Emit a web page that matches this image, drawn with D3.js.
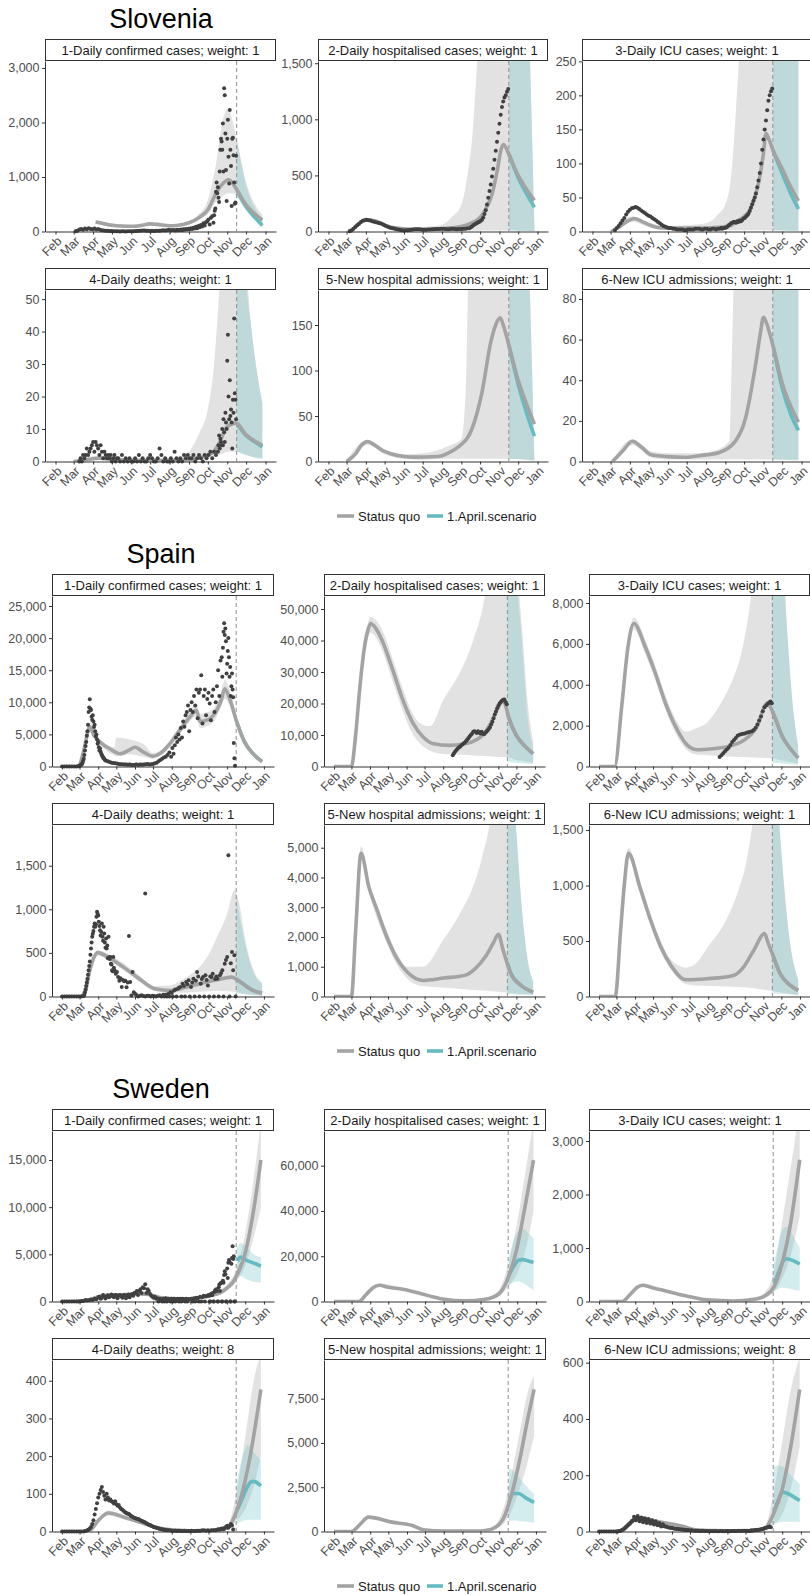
<!DOCTYPE html>
<html><head><meta charset="utf-8">
<script src="https://cdn.jsdelivr.net/npm/d3@7"></script>
<style>body{margin:0;background:#fff}svg text{font-family:"Liberation Sans",Arial,sans-serif}</style>
</head><body><svg id="c" width="810" height="1596"></svg>
<script>
// ---------------- DATA ----------------
const countries = ["Slovenia", "Spain", "Sweden"];
const panelNames = ["1-Daily confirmed cases", "2-Daily hospitalised cases", "3-Daily ICU cases", "4-Daily deaths", "5-New hospital admissions", "6-New ICU admissions"];
const SI_weights = [1, 1, 1, 1, 1, 1];
const ES_weights = [1, 1, 1, 1, 1, 1];
const SE_weights = [1, 1, 1, 8, 1, 8];
const monthLabels = ["Feb", "Mar", "Apr", "May", "Jun", "Jul", "Aug", "Sep", "Oct", "Nov", "Dec", "Jan"];
const forecastStart = "11/16";
const legendLabels = ["Status quo", "1.April.scenario"];

const SI_yMax = [3128, 1520, 250.5, 52.8, 188.5, 84.4];
const SI_yTicks = [[0, 1000, 2000, 3000], [0, 500, 1000, 1500], [0, 50, 100, 150, 200, 250], [0, 10, 20, 30, 40, 50], [0, 50, 100, 150], [0, 20, 40, 60, 80]];
const ES_yMax = [26560, 54130, 8343, 1967, 5763, 1545];
const ES_yTicks = [[0, 5000, 10000, 15000, 20000, 25000], [0, 10000, 20000, 30000, 40000, 50000], [0, 2000, 4000, 6000, 8000], [0, 500, 1000, 1500], [0, 1000, 2000, 3000, 4000, 5000], [0, 500, 1000, 1500]];
const SE_yMax = [18074, 75330, 3187, 455, 9686, 609.6];
const SE_yTicks = [[0, 5000, 10000, 15000], [0, 20000, 40000, 60000], [0, 1000, 2000, 3000], [0, 100, 200, 300, 400], [0, 2500, 5000, 7500], [0, 200, 400, 600]];

// ---- Slovenia ----
const SI_cases_med = [["4/5",175],["4/12",160],["4/20",140],["5/1",115],["5/15",100],["6/1",95],["6/15",105],["7/1",140],["7/12",130],["8/1",105],["8/15",115],["9/1",160],["9/15",240],["10/1",400],["10/15",720],["10/25",880],["11/3",950],["11/10",880],["11/16",770],["12/1",490],["12/15",320],["12/27",210]];
const SI_cases_band = [["4/5",140,210],["5/1",85,145],["6/1",70,120],["7/1",110,170],["8/1",80,130],["9/1",130,190],["9/15",200,300],["10/1",320,580],["10/15",560,1300],["10/25",650,2050],["11/3",700,2250],["11/10",700,2000],["11/16",640,1700],["12/1",420,900],["12/15",260,500],["12/27",150,300]];
const SI_cases_scen = [["11/16",770],["12/1",460],["12/15",260],["12/27",110]];
const SI_cases_scenBand = [["11/16",640,1700],["12/1",380,850],["12/15",200,430],["12/27",80,230]];
const SI_cases_obs = [["3/4",3,[3,15,35,45,30,55,40,60,45,40,55,35,45,30,25,20,15,12,10,8]],["5/2",3,[6,4,5,3,2,4,3,2,3,5,4,6,8,10,12,15,18,20,15,12,10,12,10,14,12,15,20,25,20,22,30,25,28]],["8/9",2,[25,20,30,22,28,35,25,40,30,45,35,50,40,60,45,70,55,85,60,100,80,120,90,150,110,170,190,220,130,250,280,160]],["10/11",1,[300,380,420,730,900,700,810,620,540,1100,1500,1700,1650,1500,1980,1100,2630,2500,1800,1130,560,1700,2050,1370,880,2230,1500,1200,470,1700,1720,1400,900,510,530,1390]]];

const SI_hosp_med = [["3/4",0],["3/12",25],["3/22",75],["3/30",100],["4/5",105],["4/15",95],["4/25",75],["5/5",50],["5/20",30],["6/5",22],["7/1",20],["8/1",25],["8/15",32],["9/1",45],["9/15",70],["10/1",125],["10/10",200],["10/20",330],["10/28",530],["11/4",740],["11/8",775],["11/12",740],["11/16",690],["12/1",500],["12/15",370],["12/27",277]];
const SI_hosp_band = [["3/4",0,2],["3/22",65,85],["4/5",92,116],["5/5",40,60],["6/5",15,30],["7/1",12,40],["8/1",10,60],["8/15",9,120],["9/1",8,240],["9/10",8,480],["9/20",8,950],["9/28",8,1700],["10/10",8,3000],["11/16",8,5000],["12/1",6,4000],["12/19",4,1700],["12/27",2,40]];
const SI_hosp_scen = [["11/16",690],["12/1",480],["12/15",330],["12/27",215]];
const SI_hosp_scenBand = [["11/16",8,5000],["12/1",6,4000],["12/19",4,1700],["12/27",2,40]];
const SI_hosp_obs = [["3/6",3,[2,10,25,40,55,70,85,95,100,105,100,98,92,88,82,78,74,68,60,52,45,38,32,28,24,20,17,14,12,10,11,12,14,16,18,20,20,19,18,16,15,15,17,18,20,21,22,22,23,25,24,22,20,21,22,24,22,20,22,23,22,24,25,28,30]],["9/16",2,[38,45,55,62,70,75,82,88,95,105,125,155,190,240,300,360,420,490,560,640,720,800,880,960,1040,1110,1160,1195,1215,1245,1270]]];

const SI_icu_med = [["3/2",0],["3/15",7],["4/1",17],["4/8",19],["4/20",15],["5/1",10],["5/15",6],["6/1",5],["7/1",5],["8/1",5],["8/20",6],["9/7",8],["9/20",15],["10/1",22],["10/9",30],["10/18",50],["10/25",75],["11/1",115],["11/5",144],["11/10",135],["11/16",120],["12/1",92],["12/15",65],["12/27",45]];
const SI_icu_band = [["3/2",0,1],["4/5",14,22],["5/1",7,13],["6/1",3,8],["7/1",2,9],["8/1",2,12],["8/20",2,25],["9/1",2,40],["9/10",2,80],["9/18",2,180],["9/25",2,300],["10/10",2,800],["11/16",2,1000],["12/27",1,800]];
const SI_icu_scen = [["11/16",120],["12/1",85],["12/15",55],["12/27",33]];
const SI_icu_scenBand = [["11/16",2,1000],["12/1",1.5,900],["12/27",1,800]];
const SI_icu_obs = [["3/8",3,[2,5,8,12,16,20,25,29,32,34,35,36,35,33,31,29,27,25,23,22,20,18,16,14,12,10,8,7,6,5,5,4,4,3,3,3,3,2,2,3,3,3,3,4,4,4,3,3,4,4,3,3,4,4,3,4]],["8/23",2,[4,5,4,5,5,6,7,9,10,12,13,14,14,13,15,14,16,15,17,19,20,22,24,26,30,35,40,45,50,56,65,75,86,100,120,135,150,163,178,192,200,206,210]]];

const SI_death_med = [["3/1",0],["3/20",0.5],["4/10",1],["5/10",0.5],["6/15",0.3],["8/1",0.3],["9/1",0.5],["9/15",1],["10/1",2],["10/10",3],["10/20",6],["10/31",10.5],["11/15",11.8],["12/1",8.2],["12/15",6.3],["12/27",5]];
const SI_death_band = [["3/1",0,0.3],["4/10",0.5,1.8],["6/1",0,1],["8/1",0,1],["8/17",0.2,1.2],["9/1",0.4,3],["9/18",0.8,9],["10/1",1,16],["10/10",1.5,28],["10/20",2,55],["11/1",3,100],["11/16",3,90],["12/1",2,60],["12/10",1.5,40],["12/18",1.2,28],["12/27",1,18]];
const SI_death_scen = [["11/16",11.8],["12/1",8],["12/15",6],["12/27",4.5]];
const SI_death_scenBand = [["11/16",3,100],["12/1",2,55],["12/10",1.5,40],["12/18",1,28],["12/27",0.8,18]];
const SI_death_obs = [["3/10",2,[0,1,0,2,1,2,4,2,3,4,5,6,3,6,5,4,2,5,3,1,3,2,1,2,1,2,0,1,2,0,1]],["5/11",3,[1,0,2,0,1,0,1,0,0,1,0,2,0,1,0,0,1,2,1,0,0,1,4,2,0,1,0,0,1,0,3,1,0,1,0,2,1,2,1]],["9/5",3,[1,2,0,1,2,1,0,2,1,2,3,1,3,2]],["10/17",1,[3,5,8,4,7,6,5,10,5,13,9,6,15,12,10,31,39,20,13,25,14,16,12,4,19,15,44,21,19,13]]];

const SI_adm_med = [["3/1",0],["3/15",8],["3/25",18],["4/4",22],["4/15",18],["5/1",11],["5/11",8.5],["6/1",5.5],["6/18",4.8],["7/25",5.5],["8/10",9],["8/27",16],["9/18",36],["10/4",76],["10/18",131],["10/27",152],["11/2",158],["11/8",148],["11/16",128],["12/2",87],["12/15",62],["12/27",41]];
const SI_adm_band = [["3/1",0,1],["4/4",18,24],["5/1",8,13],["6/1",3,8],["7/1",2,9],["8/1",3,14],["8/15",3,18],["9/1",3,25],["9/8",3,80],["9/12",3,200],["10/1",3,400],["11/16",3,400],["12/15",2,260],["12/27",1,3]];
const SI_adm_scen = [["11/16",128],["12/2",82],["12/15",52],["12/27",28]];
const SI_adm_scenBand = [["11/16",3,400],["12/15",2,260],["12/27",1,3]];

const SI_icuadm_med = [["3/4",0],["3/20",5],["4/5",10],["4/20",7],["5/5",3.3],["6/1",2.4],["6/29",2.1],["7/25",3],["8/21",4.3],["9/17",10],["10/3",21],["10/19",47],["10/27",63],["11/1",71],["11/6",68],["11/17",56],["12/2",37.5],["12/15",27],["12/27",19.4]];
const SI_icuadm_band = [["3/4",0,0.5],["4/5",8,11],["5/5",2,5],["6/1",1,4],["7/15",1,4],["8/11",1,5],["9/7",1,10],["9/11",1,47],["9/15",1,100],["10/1",1,300],["12/27",1,300]];
const SI_icuadm_scen = [["11/17",56],["12/2",35],["12/15",23],["12/27",15.3]];
const SI_icuadm_scenBand = [["11/16",1,300],["12/27",0.5,300]];

// ---- Spain ----
const ES_cases_med = [["2/1",0],["2/28",0],["3/8",2500],["3/18",6140],["3/25",4800],["4/4",3800],["4/20",2760],["5/7",1980],["5/23",2600],["6/1",3000],["6/15",2250],["7/1",1600],["7/12",1980],["7/29",3540],["8/14",5620],["8/31",7700],["9/11",8750],["9/17",7000],["10/1",7300],["10/9",7970],["10/22",10300],["10/28",12100],["11/5",10600],["11/16",7200],["11/30",3800],["12/14",2000],["12/29",750]];
const ES_cases_band = [["2/1",0,0],["2/28",0,100],["3/18",5600,6800],["4/4",3400,4200],["4/28",1700,3000],["5/1",1600,4500],["5/23",1900,4200],["6/15",1500,3500],["7/1",1200,2100],["7/12",1600,2400],["8/14",5000,6200],["9/11",7700,9700],["9/17",6000,8200],["10/9",6900,9000],["10/22",9300,11600],["10/28",10500,13500],["11/5",9500,12000],["11/16",6500,8000],["11/30",3400,4200],["12/14",1800,2200],["12/29",650,850]];
const ES_cases_scen = [["11/16",7200],["11/30",3800],["12/14",2000],["12/29",750]];
const ES_cases_scenBand = [["11/16",6500,8000],["11/30",3400,4200],["12/14",1800,2200],["12/29",650,850]];
const ES_cases_obs = [["2/1",4,[0,0,0,0,0,0,0]],["2/28",1,[20,50,100,150,200,300,400,600,900,1200,1800,2500,3200,3800,4800,5500,6500,8500,9200,10470,9000,8800,7800,7300,8000,7000,6140,6500,5500,4700,5000,4200,3540,3800,3000,2500,2800,2300,2000,1800,1600,1450,1300,1200,1000]],["4/14",3,[900,800,700,600,550,500,450,400,350,350,300,300,280,300,250,250,280,300,250,300,280,300,350,400]],["6/25",3,[300,350,400,500,600,800,1000,1200,1400,1500,1800,2200,1500]],["8/2",2,[2900,2000,3300,4500,3800,5000,4200,6000,4500,7000,6200,8000,8500,9500,5500]],["9/1",2,[8800,10000,8500,11000,9500,12000,7500,11500,12000,14200,6700,11000,12000,8000,10500,11500,9800,7200,11000,12000,8500,10000,12500,15000,11000,16500,17000]],["10/24",1,[14000,18500,21000,22300,20500,21500,19500,14500,16000,18000,20000,17000,14000,15500,11000,12500,14500,12000,10800,3650,1300,100]]];

const ES_hosp_med = [["2/1",0],["3/1",0],["3/8",10000],["3/15",25000],["3/22",37000],["3/28",43000],["4/2",45400],["4/10",44000],["4/21",40100],["5/9",30600],["5/26",21000],["6/12",13600],["6/29",9300],["7/16",7200],["8/11",6700],["9/6",7200],["9/20",8000],["10/2",9300],["10/19",13600],["11/1",18900],["11/8",21000],["11/12",20000],["11/18",15700],["12/1",9900],["12/14",6700],["12/29",4100]];
const ES_hosp_band = [["2/1",0,0],["3/1",0,200],["3/15",23000,27000],["4/2",42500,47500],["4/21",37000,43500],["5/9",27000,34000],["5/26",17500,24500],["6/12",10000,16500],["6/25",7000,13500],["7/10",5000,12800],["8/1",4000,21000],["9/1",3700,31000],["9/20",3500,40000],["10/10",3300,55000],["10/25",3100,80000],["11/16",3000,100000],["12/1",2000,65000],["12/10",1800,45000],["12/20",1500,20000],["12/29",1200,8000]];
const ES_hosp_scen = [["11/16",17000],["11/18",15700],["12/1",9900],["12/14",6700],["12/29",4100]];
const ES_hosp_scenBand = [["11/16",1500,100000],["12/1",1200,60000],["12/10",1000,40000],["12/20",900,15000],["12/29",800,6000]];
const ES_hosp_obs = [["8/17",2,[3600,4200,4800,5200,5600,6000,6300,6700,7000,7300,7600,8000,8600,9000,9500,10000,10400,11000,11200,11000,10600,11200,10800,10500,11000,10400,10200,10600,11000,11400,11900,12500,13300,14200,15300,16500,17500,18500,19300,20000,20500,20900,21200,21300,20500,19800]]];

const ES_icu_med = [["2/1",0],["2/27",0],["3/10",3000],["3/20",5800],["3/30",7000],["4/18",5860],["5/5",4550],["5/22",3080],["6/8",1930],["6/25",1110],["7/13",820],["8/8",870],["9/3",980],["9/29",1280],["10/21",1930],["11/7",3080],["11/12",2950],["11/20",2420],["12/3",1440],["12/16",870],["12/29",420]];
const ES_icu_band = [["2/1",0,0],["2/27",0,30],["3/20",5500,6100],["3/30",6700,7300],["4/18",5500,6200],["5/5",4200,4900],["5/22",2750,3450],["6/8",1600,2300],["6/25",850,1700],["7/10",600,1850],["8/1",550,2200],["8/20",500,3000],["9/10",480,4200],["9/25",460,5500],["10/10",450,8000],["10/25",430,12000],["11/16",400,20000],["12/1",300,12000],["12/10",250,7000],["12/20",200,3000],["12/29",150,1000]];
const ES_icu_scen = [["11/16",2700],["11/20",2420],["12/3",1440],["12/16",870],["12/29",420]];
const ES_icu_scenBand = [["11/16",200,20000],["12/1",150,12000],["12/10",120,7000],["12/20",100,3000],["12/29",80,1000]];
const ES_icu_obs = [["8/20",3,[460,550,650,750,830,920,1050,1200,1300,1400,1500,1550,1580,1600,1620,1650,1680,1700,1720,1780,1900,2050,2250,2450,2700,2900,3000,3100]],["11/11",2,[3150,3180,3100]]];

const ES_death_med = [["2/1",0],["3/1",0],["3/10",50],["3/18",300],["3/25",450],["3/31",503],["4/17",452],["5/13",337],["6/8",204],["7/4",89],["7/30",69],["8/24",107],["9/28",165],["10/23",204],["11/9",222],["11/16",200],["11/27",146],["12/14",69],["12/29",40]];
const ES_death_band = [["2/1",0,0],["3/1",0,5],["3/18",270,330],["3/31",470,530],["4/17",420,490],["5/13",300,380],["6/8",170,240],["7/4",60,120],["7/30",40,125],["8/15",45,180],["9/1",50,250],["9/15",55,330],["10/1",60,480],["10/15",65,680],["11/1",60,950],["11/13",55,1220],["11/20",45,1100],["12/1",30,650],["12/15",20,300],["12/29",10,160]];
const ES_death_scen = [["11/16",200],["11/27",146],["12/14",69],["12/29",40]];
const ES_death_scenBand = [["11/16",40,1150],["12/1",25,600],["12/15",15,270],["12/29",8,140]];
const ES_death_obs = [["2/1",4,[0,0,0,0,0,0,0,0,0]],["3/8",1,[5,20,50,80,120,160,200,250,300,350,400,480,550,620,685,720,750,800,838,800,830,915,973,950,930,857,810,760,700,740,838,685,640,800,723,620,560,665,550,585,440,685,450,430,453,377,367,300,290,453,330,300]],["4/30",2,[260,280,225,180,210,108,190,175,180,105,160,694,165,12,280,50,31]],["6/3",3,[20,0,10,15,5,0,10,8,0,10,5,0,8,15,0,20]],["6/18",1,[1180]],["7/20",2,[0,20,0,30,0,50,40,0,69,80,0,89,100,108,0,146,120,0,165,140,185,0,108,160,204,0,180,280,230,0,146,200,224,0,243,190,127,0,230,224,262,0,200,230,204,0,243,270,300,0,377,420,453,1620,0,380,510,300,472,0]]];

const ES_adm_med = [["2/1",0],["3/1",0],["3/8",2200],["3/17",4810],["3/30",3680],["4/12",2950],["4/29",2000],["5/16",1270],["6/2",820],["6/28",540],["8/2",620],["9/6",710],["9/23",930],["10/10",1325],["10/23",1775],["11/1",2090],["11/9",1550],["11/22",765],["12/9",370],["12/29",145]];
const ES_adm_band = [["2/1",0,0],["3/1",0,30],["3/17",4600,5050],["3/30",3500,3900],["4/29",1800,2200],["5/16",1050,1450],["6/2",600,1000],["6/28",350,1000],["8/1",300,1900],["9/1",250,2900],["9/20",220,3700],["10/5",200,4700],["10/20",180,6200],["11/1",160,9000],["11/16",130,9000],["12/1",100,5500],["12/10",90,3000],["12/20",80,1200],["12/29",70,500]];
const ES_adm_scen = [["11/16",1130],["11/22",765],["12/9",370],["12/29",145]];
const ES_adm_scenBand = [["11/16",80,9000],["12/1",70,5500],["12/10",60,3000],["12/20",50,1200],["12/29",40,500]];

const ES_icuadm_med = [["2/1",0],["2/28",0],["3/8",600],["3/14",1000],["3/21",1290],["4/9",988],["4/27",687],["5/14",446],["5/31",280],["6/25",151],["7/30",160],["9/12",190],["9/29",265],["10/16",416],["11/3",567],["11/9",480],["11/16",386],["11/29",205],["12/16",100],["12/29",55]];
const ES_icuadm_band = [["2/1",0,0],["2/28",0,10],["3/21",1240,1340],["4/9",930,1040],["4/27",640,740],["5/14",400,500],["5/31",240,330],["6/25",110,260],["7/10",100,290],["8/1",95,450],["9/1",90,700],["9/20",85,950],["10/5",80,1250],["10/15",75,1600],["11/3",60,2500],["11/16",50,2500],["12/1",35,1300],["12/15",25,500],["12/29",15,150]];
const ES_icuadm_scen = [["11/16",386],["11/29",205],["12/16",100],["12/29",55]];
const ES_icuadm_scenBand = [["11/16",30,2500],["12/1",25,1300],["12/15",18,500],["12/29",12,150]];

// ---- Sweden ----
const SE_cases_med = [["2/1",0],["3/1",20],["3/15",150],["4/1",500],["4/15",650],["5/1",700],["5/20",700],["6/10",800],["6/25",750],["7/10",450],["8/1",300],["8/20",280],["9/10",350],["9/25",500],["10/10",700],["10/25",1100],["11/2",1500],["11/10",2000],["11/16",2650],["12/1",5130],["12/15",9730],["12/27",15000]];
const SE_cases_band = [["2/1",0,0],["3/1",10,40],["4/1",400,650],["5/1",550,900],["6/10",650,1000],["7/10",350,600],["8/1",220,400],["9/10",270,450],["10/10",550,900],["11/2",1200,1900],["11/16",2100,3400],["12/1",3800,7200],["12/15",6800,13000],["12/27",10000,19000]];
const SE_cases_scen = [["11/18",4300],["11/23",4700],["12/1",4450],["12/10",4200],["12/18",4000],["12/27",3750]];
const SE_cases_scenBand = [["11/17",2600,5600],["11/23",2700,6200],["12/1",2400,5900],["12/15",2100,5000],["12/27",2000,4700]];
const SE_cases_obs = [["2/1",4,[0,0,0,0,0,0,0]],["2/28",3,[5,15,40,60,150,100,120,200,150,300,250]],["4/1",2,[450,500,300,400,700,550,330,500,650,450,550,750,600,450,700]],["5/1",2,[650,350,600,700,550,400,650,700,350,600,750,450,700,800,600,900]],["6/2",2,[900,1100,700,1100,1300,900,1500,1400,1820,900,1300,1100,800,600,500]],["7/2",2,[400,500,300,350,0,300,250,0,300,0,350,0,300,250,0]],["8/1",2,[300,0,280,0,250,300,0,280,0,300,250,0,300,0,250]],["9/1",2,[250,300,0,350,0,400,350,0,500,0,450,600,0,550,600]],["10/1",1,[700,600,0,0,800,700,650,900,0,0,1000,1200,1100,1300,1100,0,0,1500,1800,1100,1900,2000,0,0,2200,2000,2800,3200,2900,0,0,3500,2500,4100,4400,4200,0,0,4000,4600,5860,4500,4800,0,0]]];

const SE_hosp_med = [["2/1",0],["3/13",0],["3/25",3000],["4/5",6000],["4/16",7150],["5/1",6300],["5/25",5400],["6/28",3200],["7/15",2000],["8/2",1000],["9/5",300],["10/9",1000],["10/31",3200],["11/17",11200],["11/30",22950],["12/13",40500],["12/28",62450]];
const SE_hosp_band = [["2/1",0,0],["3/13",0,100],["4/16",6400,7900],["5/25",4800,6000],["6/28",2800,3600],["8/2",800,1200],["9/5",200,450],["10/9",700,1500],["10/31",2200,5000],["11/17",7000,17500],["12/1",12500,35000],["12/15",23000,58000],["12/28",40000,80000]];
const SE_hosp_scen = [["11/18",12000],["11/25",15500],["12/3",18200],["12/10",18500],["12/18",18000],["12/28",17300]];
const SE_hosp_scenBand = [["11/17",7000,19000],["11/25",8500,27000],["12/3",9000,31000],["12/12",8000,32000],["12/20",6500,30000],["12/28",5000,28000]];

const SE_icu_med = [["2/1",0],["3/10",0],["3/25",150],["4/5",270],["4/14",303],["5/1",250],["5/22",197],["6/25",104],["7/29",30],["9/11",10],["10/15",40],["11/2",104],["11/18",290],["12/1",720],["12/14",1400],["12/30",2650]];
const SE_icu_band = [["2/1",0,0],["3/10",0,5],["4/14",270,335],["5/22",170,225],["6/25",85,125],["7/29",20,45],["9/11",5,18],["10/15",25,65],["11/2",70,170],["11/18",180,600],["12/1",430,1500],["12/15",850,2500],["12/30",1600,3600]];
const SE_icu_scen = [["11/18",330],["11/25",550],["12/2",740],["12/8",800],["12/20",760],["12/30",700]];
const SE_icu_scenBand = [["11/17",200,700],["11/25",240,1100],["12/2",260,1350],["12/10",250,1400],["12/20",220,1200],["12/30",200,1000]];

const SE_death_med = [["2/1",0],["3/10",0],["3/20",5],["4/1",29],["4/18",49],["5/14",38],["6/9",25],["7/5",11.5],["7/31",4.5],["9/11",1.5],["10/16",3],["11/2",10],["11/17",56],["11/27",109],["12/10",207],["12/27",377]];
const SE_death_band = [["2/1",0,0],["3/10",0,1],["4/18",42,56],["5/14",32,44],["6/9",20,30],["7/5",8,15],["7/31",3,7],["9/11",0.5,3],["10/16",2,5],["11/2",6,16],["11/17",30,110],["12/1",60,250],["12/15",120,400],["12/27",200,470]];
const SE_death_scen = [["11/17",55],["11/27",91],["12/5",120],["12/10",131],["12/15",133],["12/27",121]];
const SE_death_scenBand = [["11/17",20,130],["11/27",28,200],["12/5",31,229],["12/15",31,210],["12/27",31,189]];
const SE_death_obs = [["2/1",4,[0,0,0,0,0,0,0,0,0,0]],["3/10",2,[1,2,3,5,8,12,20,30,45,60,75,90,100,110,118,105,95,85,100,90,82,85,80,78,74,80,72,68,70,64,60,58,55,52,50,48,47,45,42,40,38,36,35,34,33,32,30,28,27,25,24,22,20,18,17,15,14,12,11,10,9,8,7,6,5,5,4,4,3,3]],["7/29",3,[3,2,2,2,1,2,1,1,2,1,1,1,2,1,1,2,2,2,3,3,2,3,2,3,3]],["10/12",2,[3,4,5,6,5,7,8,6,10,12,15,10,14,20,16,5]]];

const SE_adm_med = [["2/1",0],["3/1",0],["3/15",400],["3/29",810],["5/7",530],["6/10",340],["6/28",95],["8/2",20],["9/23",20],["10/9",57],["10/26",245],["11/9",810],["11/22",2140],["12/5",4030],["12/18",6290],["12/29",8030]];
const SE_adm_band = [["2/1",0,0],["3/1",0,10],["3/29",760,860],["5/7",490,580],["6/10",300,390],["6/28",70,130],["8/2",10,40],["9/23",10,40],["10/9",35,90],["10/26",150,400],["11/9",450,1400],["11/22",1200,3300],["12/5",2400,5600],["12/18",3900,7800],["12/29",5400,8800]];
const SE_adm_scen = [["11/18",1800],["11/25",2150],["12/3",2150],["12/15",1900],["12/29",1650]];
const SE_adm_scenBand = [["11/17",600,3600],["11/25",620,3400],["12/3",600,3100],["12/15",550,2600],["12/29",500,2100]];

const SE_icuadm_med = [["2/1",0],["3/5",0],["3/20",25],["4/1",45],["4/12",47],["5/1",38],["5/20",30],["6/20",18],["7/10",6],["8/10",3],["9/20",2],["10/20",4],["11/2",10],["11/16",60],["12/1",150],["12/15",300],["12/30",505]];
const SE_icuadm_band = [["2/1",0,0],["3/5",0,2],["4/5",40,55],["5/1",32,45],["6/20",13,24],["7/10",3,9],["8/10",1,5],["9/20",1,4],["10/20",2,7],["11/2",6,18],["11/16",25,130],["12/1",60,320],["12/15",150,500],["12/30",300,620]];
const SE_icuadm_scen = [["11/17",70],["11/25",115],["12/1",140],["12/10",135],["12/20",123],["12/30",110]];
const SE_icuadm_scenBand = [["11/17",25,230],["11/25",32,235],["12/2",35,230],["12/15",35,200],["12/30",35,170]];
const SE_icuadm_obs = [["2/1",4,[0,0,0,0,0,0,0,0]],["3/2",2,[0,1,2,3,5,7,10,14,18,22,26,30,35,38,42,46,48,50,46,44,48,42,45,40,38,40,35,36,32,30,31,29,28,26,25,24,23,22,20,19,18,17,15,14,13,12,12,11,10,10,9,8,8,7,7,6,6,5,5,4]],["3/27",3,[38,52,40,55,36,50,33,47,30,44,28,40,25,36,22,30,18,26]],["7/1",3,[4,4,3,3,3,2,2,3,2,2,2,1,2,1,2,1,1,2,1,1,2,2,1,2,2,2,2,3,2,3,3,3]],["10/5",2,[3,2,3,4,3,4,5,4,6,5,7,8,9,10,12,13,14,16,18,15]]];

// ---------------- BUILD ----------------
const mk = (names, weights, yMax, yTicks, sets) => sets.map((s, i) => ({
  title: `${names[i]}; weight: ${weights[i]}`, ymax: yMax[i], ticks: yTicks[i],
  med: s[0], band: s[1], scen: s[2], scenBand: s[3], obs: s[4] || []
}));
const data = [
  mk(panelNames, SI_weights, SI_yMax, SI_yTicks, [
    [SI_cases_med, SI_cases_band, SI_cases_scen, SI_cases_scenBand, SI_cases_obs],
    [SI_hosp_med, SI_hosp_band, SI_hosp_scen, SI_hosp_scenBand, SI_hosp_obs],
    [SI_icu_med, SI_icu_band, SI_icu_scen, SI_icu_scenBand, SI_icu_obs],
    [SI_death_med, SI_death_band, SI_death_scen, SI_death_scenBand, SI_death_obs],
    [SI_adm_med, SI_adm_band, SI_adm_scen, SI_adm_scenBand],
    [SI_icuadm_med, SI_icuadm_band, SI_icuadm_scen, SI_icuadm_scenBand]]),
  mk(panelNames, ES_weights, ES_yMax, ES_yTicks, [
    [ES_cases_med, ES_cases_band, ES_cases_scen, ES_cases_scenBand, ES_cases_obs],
    [ES_hosp_med, ES_hosp_band, ES_hosp_scen, ES_hosp_scenBand, ES_hosp_obs],
    [ES_icu_med, ES_icu_band, ES_icu_scen, ES_icu_scenBand, ES_icu_obs],
    [ES_death_med, ES_death_band, ES_death_scen, ES_death_scenBand, ES_death_obs],
    [ES_adm_med, ES_adm_band, ES_adm_scen, ES_adm_scenBand],
    [ES_icuadm_med, ES_icuadm_band, ES_icuadm_scen, ES_icuadm_scenBand]]),
  mk(panelNames, SE_weights, SE_yMax, SE_yTicks, [
    [SE_cases_med, SE_cases_band, SE_cases_scen, SE_cases_scenBand, SE_cases_obs],
    [SE_hosp_med, SE_hosp_band, SE_hosp_scen, SE_hosp_scenBand],
    [SE_icu_med, SE_icu_band, SE_icu_scen, SE_icu_scenBand],
    [SE_death_med, SE_death_band, SE_death_scen, SE_death_scenBand, SE_death_obs],
    [SE_adm_med, SE_adm_band, SE_adm_scen, SE_adm_scenBand],
    [SE_icuadm_med, SE_icuadm_band, SE_icuadm_scen, SE_icuadm_scenBand, SE_icuadm_obs]])
];

// ---------------- LAYOUT / STYLE ----------------
const layout = {
  blockH: 535,
  rows: [{ T: 61, H: 170.5 }, { T: 290, H: 171.5 }],
  cols: [[[45, 231], [318, 230], [582, 230]], [[52, 222], [324, 221], [589, 221]], [[52, 222], [324, 222], [589, 222]]],
  stripH: 22
};
const C = { band: "#E2E2E2", scenBand: "#6DBFC8", med: "#A3A3A3", scen: "#66BAC2", obs: "#404040", axis: "#333333", tick: "#4D4D4D" };

const svg = d3.select("#c");
const defs = svg.append("defs");
let uid = 0;
const pd = s => { const [m, d] = s.split("/").map(Number); return new Date(2020, m - 1, d); };
const expand = segs => segs.flatMap(([s, step, vals]) => { const d0 = pd(s); return vals.map((v, i) => [d3.timeDay.offset(d0, i * step), v]); });
const monthTicks = monthLabels.map((_, i) => new Date(2020, i + 1, 1));
const xDomain = [new Date(2020, 0, 15, 6), new Date(2021, 0, 17, 18)];
const FONT = "Liberation Sans, Arial, sans-serif";

function drawPanel(p, L, T, W, H) {
  const x = d3.scaleTime().domain(xDomain).range([L, L + W]);
  const y = d3.scaleLinear().domain([0, p.ymax]).range([T + H, T]);
  const cid = "cp" + (uid++);
  defs.append("clipPath").attr("id", cid).append("rect").attr("x", L).attr("y", T).attr("width", W).attr("height", H);
  const g = svg.append("g");
  const cg = g.append("g").attr("clip-path", `url(#${cid})`);
  const area = d3.area().x(d => x(pd(d[0]))).y0(d => y(d[1])).y1(d => y(d[2])).curve(d3.curveMonotoneX);
  const line = d3.line().x(d => x(pd(d[0]))).y(d => y(d[1])).curve(d3.curveMonotoneX);
  cg.append("path").attr("d", area(p.band)).attr("fill", C.band);
  cg.append("path").attr("d", area(p.scenBand)).attr("fill", C.scenBand).attr("fill-opacity", 0.3);
  const xf = x(pd(forecastStart));
  cg.append("line").attr("x1", xf).attr("x2", xf).attr("y1", T).attr("y2", T + H)
    .attr("stroke", "#8F8F8F").attr("stroke-width", 1).attr("stroke-dasharray", "4,3");
  cg.append("path").attr("d", line(p.scen)).attr("fill", "none").attr("stroke", C.scen).attr("stroke-width", 3.6);
  cg.append("path").attr("d", line(p.med)).attr("fill", "none").attr("stroke", C.med).attr("stroke-width", 3.6);
  g.append("g").selectAll("circle").data(expand(p.obs)).join("circle")
    .attr("cx", d => x(d[0])).attr("cy", d => y(d[1])).attr("r", 2).attr("fill", C.obs);

  const xa = g.append("g").attr("transform", `translate(0,${T + H})`)
    .call(d3.axisBottom(x).tickValues(monthTicks).tickFormat((d, i) => monthLabels[i]).tickSize(3).tickSizeOuter(0));
  const ya = g.append("g").attr("transform", `translate(${L},0)`)
    .call(d3.axisLeft(y).tickValues(p.ticks).tickFormat(d3.format(",")).tickSize(3).tickSizeOuter(0));
  [xa, ya].forEach(a => {
    a.attr("font-size", 12.5).attr("font-family", FONT);
    a.select(".domain").attr("stroke", C.axis);
    a.selectAll(".tick line").attr("stroke", C.axis);
    a.selectAll(".tick text").attr("fill", C.tick);
  });
  ya.selectAll(".tick text").attr("x", -5.5);
  xa.selectAll(".tick text").attr("text-anchor", "end").attr("x", 0).attr("y", 0).attr("dy", "0.72em")
    .attr("transform", "translate(0,4) rotate(-45)");

  g.append("rect").attr("x", L + 0.5).attr("y", T - layout.stripH + 0.5).attr("width", W - 1).attr("height", layout.stripH - 1)
    .attr("fill", "#fff").attr("stroke", C.axis).attr("stroke-width", 1);
  g.append("text").attr("x", L + W / 2).attr("y", T - layout.stripH / 2).attr("dy", "0.36em")
    .attr("text-anchor", "middle").attr("font-size", 13).attr("fill", "#1A1A1A").text(p.title);
}

data.forEach((panels, ci) => {
  const oy = ci * layout.blockH;
  svg.append("text").attr("x", 161).attr("y", 27.5 + oy).attr("text-anchor", "middle")
    .attr("font-size", 27).attr("fill", "#000").text(countries[ci]);
  panels.forEach((p, pi) => {
    const r = Math.floor(pi / 3), c = pi % 3;
    const [L, W] = layout.cols[ci][c];
    drawPanel(p, L, layout.rows[r].T + oy, W, layout.rows[r].H);
  });
  const ly = 516 + oy;
  const lg = svg.append("g").attr("font-size", 13).attr("fill", "#1A1A1A");
  lg.append("line").attr("x1", 337).attr("x2", 354).attr("y1", ly).attr("y2", ly).attr("stroke", C.med).attr("stroke-width", 3.6);
  lg.append("text").attr("x", 358).attr("y", ly).attr("dy", "0.36em").text(legendLabels[0]);
  lg.append("line").attr("x1", 427).attr("x2", 443).attr("y1", ly).attr("y2", ly).attr("stroke", C.scen).attr("stroke-width", 3.6);
  lg.append("text").attr("x", 447).attr("y", ly).attr("dy", "0.36em").text(legendLabels[1]);
});
</script>
</body></html>
